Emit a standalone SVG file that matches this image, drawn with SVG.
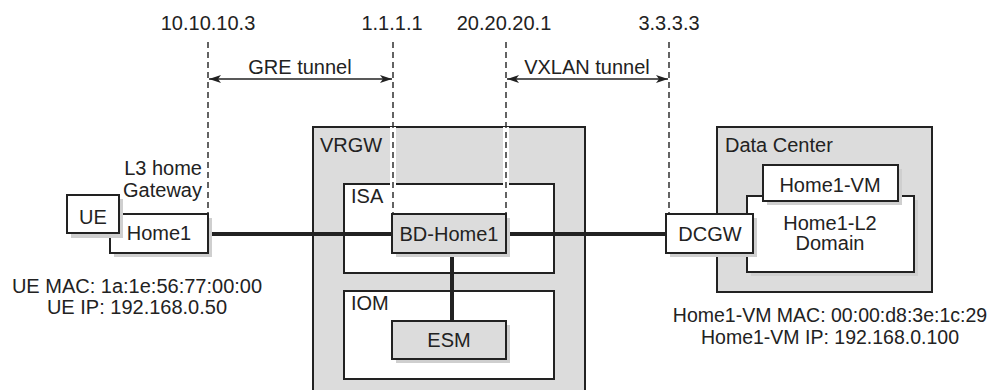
<svg xmlns="http://www.w3.org/2000/svg" width="995" height="390" viewBox="0 0 995 390">
<style>
text{font-family:"Liberation Sans",Arial,sans-serif;font-size:20px;fill:#222}
.c{text-anchor:middle}
.s{font-size:19.5px}
.box{stroke:#222;stroke-width:2}
.w{fill:#fff}
.g{fill:#dcdcdc}
.sh{fill:#cfcfcf}
.link{stroke:#222;stroke-width:4;fill:none}
.halo{stroke:#fff;stroke-width:6}
.dash{stroke:#222;stroke-width:1.4;stroke-dasharray:6,4}
.arr{stroke:#222;stroke-width:1.5}
</style>
<defs>
<marker id="ah" viewBox="0 0 12 8" refX="12" refY="4" markerWidth="12" markerHeight="8" markerUnits="userSpaceOnUse" orient="auto-start-reverse">
<path d="M0,0 L12,4 L0,8 L3,4 Z" fill="#222"/>
</marker>
</defs>
<rect width="995" height="390" fill="#fff"/>
<g id="vrgw">
<path class="box g" d="M313,391 V127 H585 V391"/>
<text x="320" y="152">VRGW</text>
</g>
<g id="isa">
<rect class="box w" x="344" y="184" width="210" height="89"/>
<text x="351" y="203">ISA</text>
</g>
<g id="iom">
<rect class="box w" x="344" y="291" width="210" height="88"/>
<text x="351" y="310">IOM</text>
</g>
<g id="datacenter">
<rect class="box g" x="717" y="127" width="215" height="165"/>
<text x="725" y="152">Data Center</text>
</g>
<g id="guides">
<line class="halo" x1="393" y1="127" x2="393" y2="214"/>
<line class="halo" x1="506" y1="127" x2="506" y2="214"/>
<line class="dash" x1="208" y1="42" x2="208" y2="214"/>
<line class="dash" x1="393" y1="42" x2="393" y2="214"/>
<line class="dash" x1="506" y1="42" x2="506" y2="214"/>
<line class="dash" x1="669" y1="42" x2="669" y2="214"/>
<text class="c" x="208" y="30">10.10.10.3</text>
<text class="c" x="392" y="30">1.1.1.1</text>
<text class="c" x="504" y="30">20.20.20.1</text>
<text class="c" x="669" y="30">3.3.3.3</text>
</g>
<g id="tunnels">
<line class="arr" x1="209" y1="79" x2="392" y2="79" marker-start="url(#ah)" marker-end="url(#ah)"/>
<text class="c" x="300" y="74">GRE tunnel</text>
<line class="arr" x1="507" y1="79" x2="668" y2="79" marker-start="url(#ah)" marker-end="url(#ah)"/>
<text class="c" x="587" y="74">VXLAN tunnel</text>
</g>
<g id="connectors">
<line class="link" x1="208" y1="234" x2="392" y2="234"/>
<line class="link" x1="506" y1="234" x2="666" y2="234"/>
<line class="link" x1="452" y1="253" x2="452" y2="321"/>
</g>
<g id="home1">
<rect class="sh" x="114" y="218" width="98" height="39"/>
<rect class="box w" x="110" y="214" width="98" height="39"/>
<text class="c" x="159" y="240">Home1</text>
<text x="202" y="175" text-anchor="end">L3 home</text>
<text x="202" y="197" text-anchor="end">Gateway</text>
</g>
<g id="ue">
<rect class="sh" x="71" y="199" width="52" height="39"/>
<rect class="box w" x="67" y="195" width="52" height="38"/>
<text class="c" x="93" y="224">UE</text>
<text class="c" x="137" y="293">UE MAC: 1a:1e:56:77:00:00</text>
<text class="c" x="137" y="314">UE IP: 192.168.0.50</text>
</g>
<g id="bdhome1">
<rect class="sh" x="396" y="218" width="114" height="39"/>
<rect class="box g" x="392" y="214" width="114" height="39"/>
<text class="c" x="449" y="241">BD-Home1</text>
</g>
<g id="esm">
<rect class="sh" x="396" y="325" width="114" height="38"/>
<rect class="box g" x="392" y="321" width="114" height="38"/>
<text class="c" x="449" y="347">ESM</text>
</g>
<g id="l2domain">
<rect class="sh" x="751" y="200" width="167" height="76"/>
<rect class="box w" x="747" y="196" width="167" height="76"/>
<text class="c" x="830" y="230">Home1-L2</text>
<text class="c" x="830" y="250">Domain</text>
</g>
<g id="home1vm">
<rect class="sh" x="767" y="169" width="135" height="36"/>
<rect class="box w" x="763" y="165" width="135" height="36"/>
<text class="c" x="830" y="192">Home1-VM</text>
<text class="c s" x="830" y="322">Home1-VM MAC: 00:00:d8:3e:1c:29</text>
<text class="c s" x="830" y="344">Home1-VM IP: 192.168.0.100</text>
</g>
<g id="dcgw">
<rect class="sh" x="670" y="218" width="87" height="39"/>
<rect class="box w" x="666" y="214" width="87" height="39"/>
<text class="c" x="710" y="241">DCGW</text>
</g>
</svg>
